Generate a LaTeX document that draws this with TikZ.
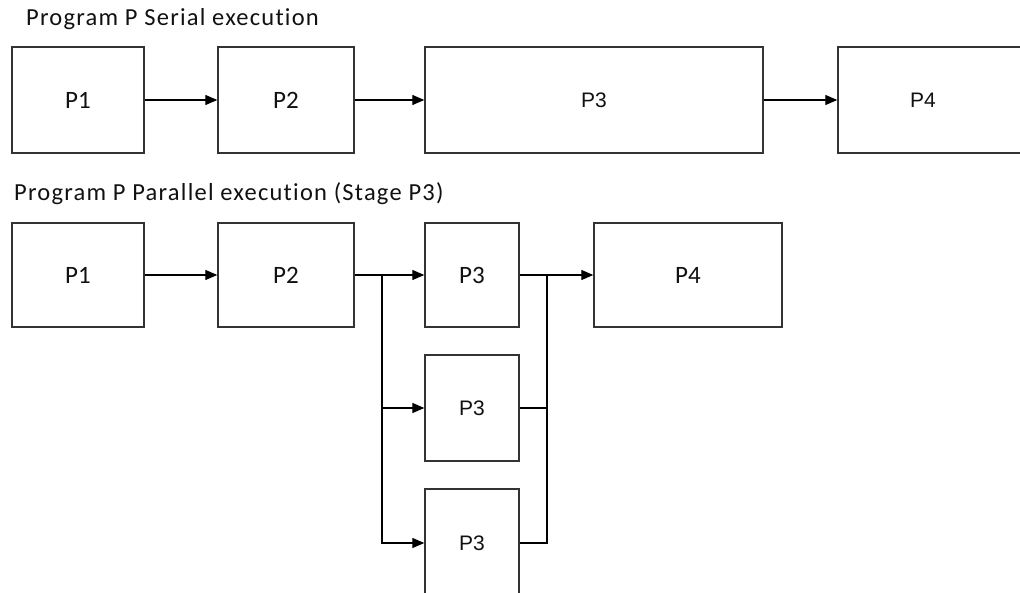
\documentclass[tikz,border=0pt]{standalone}
\usepackage{fontspec}
\setmainfont{Carlito}[Ligatures=NoCommon]
\newfontfamily\arialf{Liberation Sans}
\usetikzlibrary{arrows.meta}
\definecolor{linec}{HTML}{333333}
\definecolor{txtc}{HTML}{111111}
\tikzset{
  box/.style={draw=linec, line width=1.4pt, rectangle, inner sep=0pt, text=txtc},
  cal/.style={font=\fontsize{25}{28}\selectfont},
  ari/.style={font=\arialf\fontsize{21}{24}\selectfont},
  arr/.style={draw=black, line width=1.3pt, -{Triangle[length=12pt,width=10pt]}},
  conn/.style={draw=black, line width=1.3pt},
  title/.style={anchor=base west, inner sep=0pt, text=txtc,
                font=\addfontfeature{LetterSpace=5}\fontsize{24.5}{27}\selectfont},
}
\begin{document}
\begin{tikzpicture}[x=1pt,y=-1pt]
\useasboundingbox (0,0) rectangle (1020,593);
\clip (0,0) rectangle (1020,593);
% titles
\node[title] (t1) at (26,26) {Program P Serial execution};
\node[title] (t2) at (14,201) {Program P Parallel execution (Stage P3)};
% serial row
\node[box,cal,minimum width=132pt,minimum height=106pt] (s1) at (78,100) {P1};
\node[box,cal,minimum width=136pt,minimum height=106pt] (s2) at (286,100) {P2};
\node[box,ari,minimum width=338pt,minimum height=106pt] (s3) at (594,100) {P3};
\node[box,ari,minimum width=200pt,minimum height=106pt] (s4) at (938,100) {\hspace*{-30pt}P4};
\draw[arr] (s1.east) -- (s2.west);
\draw[arr] (s2.east) -- (s3.west);
\draw[arr] (s3.east) -- (s4.west);
% parallel rows
\node[box,cal,minimum width=132pt,minimum height=104pt] (b1) at (78,275) {P1};
\node[box,cal,minimum width=136pt,minimum height=104pt] (b2) at (286,275) {P2};
\node[box,cal,minimum width=94pt,minimum height=104pt] (b3a) at (472,275) {P3};
\node[box,cal,minimum width=188pt,minimum height=104pt] (b4) at (688,275) {P4};
\node[box,ari,minimum width=94pt,minimum height=106pt] (b3b) at (472,408) {P3};
\node[box,ari,minimum width=94pt,minimum height=108pt] (b3c) at (472,543) {P3};
\coordinate (j1) at (382,275);
\coordinate (j2) at (547,275);
\draw[arr] (b1.east) -- (b2.west);
\draw[arr] (b2.east) -- (b3a.west);
\draw[arr] (j1) |- (b3b.west);
\draw[arr] (j1) |- (b3c.west);
\draw[arr] (b3a.east) -- (b4.west);
\draw[conn] (b3b.east) -| (j2);
\draw[conn] (b3c.east) -| (j2);
\end{tikzpicture}
\end{document}
